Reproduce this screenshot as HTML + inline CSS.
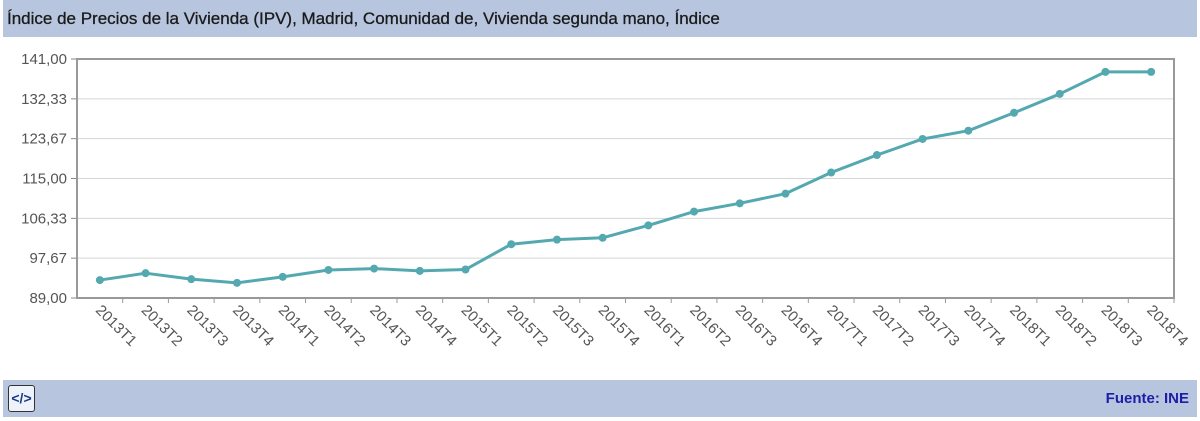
<!DOCTYPE html>
<html><head><meta charset="utf-8"><style>
body{margin:0;width:1200px;height:421px;background:#fff;overflow:hidden;font-family:"Liberation Sans",Arial,sans-serif}
#hdr{position:absolute;left:3px;top:0;width:1194px;height:37px;background:#b7c5df}
#hdr span{position:absolute;left:4px;top:9px;font-size:17px;color:#1a1a1a;-webkit-text-stroke:0.3px #1a1a1a}
#ftr{position:absolute;left:3px;top:380px;width:1194px;height:37px;background:#b7c5df}
#src{position:absolute;right:8px;top:10px;font-size:15px;color:#1d1ea8;font-weight:bold}
#code{position:absolute;left:5px;top:5px;width:25px;height:25px;border:1px solid #333;border-radius:3px;background:#eef2fa;font-size:14px;font-weight:bold;color:#1a3a8a;text-align:center;line-height:24px}
</style></head><body>
<div id="hdr"><span>Índice de Precios de la Vivienda (IPV), Madrid, Comunidad de, Vivienda segunda mano, Índice</span></div>
<svg id="chart" width="1200" height="421" style="position:absolute;left:0;top:0"></svg>
<div id="ftr"><div id="code">&lt;/&gt;</div><span id="src">Fuente: INE</span></div>
<script>
const categories=["2013T1","2013T2","2013T3","2013T4","2014T1","2014T2","2014T3","2014T4","2015T1","2015T2","2015T3","2015T4","2016T1","2016T2","2016T3","2016T4","2017T1","2017T2","2017T3","2017T4","2018T1","2018T2","2018T3","2018T4"];
const values=[92.9,94.4,93.1,92.3,93.6,95.1,95.4,94.9,95.2,100.7,101.7,102.1,104.8,107.8,109.6,111.7,116.3,120.1,123.6,125.4,129.3,133.4,138.2,138.2];
const yTicks=[89,97.67,106.33,115,123.67,132.33,141];
const yTickLabels=["89,00","97,67","106,33","115,00","123,67","132,33","141,00"];
const L=77,R=1174,T=59,B=298,yMin=89,yMax=141;
const svg=document.getElementById('chart');const NS='http://www.w3.org/2000/svg';
const band=(R-L)/categories.length;
const x=i=>L+band*(i+0.5);
const y=v=>B-(v-yMin)/(yMax-yMin)*(B-T);
function mk(t,a,p){const e=document.createElementNS(NS,t);for(const k in a)e.setAttribute(k,a[k]);(p||svg).appendChild(e);return e;}
yTicks.forEach((v,i)=>{
 const g=mk('line',{x1:L,x2:R,y1:y(v),y2:y(v),stroke:'#d4d4d4','stroke-width':1});
 
 
 mk('line',{x1:L-6,x2:L,y1:y(v),y2:y(v),stroke:'#888'});
 const t=mk('text',{x:L-10,y:y(v)+5,'text-anchor':'end','font-size':15,fill:'#555','font-family':'Liberation Sans, sans-serif'});
 t.textContent=yTickLabels[i];
 
 
});
const frame=mk('rect',{x:L,y:T,width:R-L,height:B-T,fill:'none',stroke:'#999','stroke-width':2});


categories.forEach((c,i)=>{
 mk('line',{x1:L+band*(i+1),x2:L+band*(i+1),y1:B,y2:B+5,stroke:'#999'});
 const t=mk('text',{x:0,y:0,'font-size':15,fill:'#555','font-family':'Liberation Sans, sans-serif',transform:`translate(${x(i)-5},${B+13}) rotate(45)`});
 t.textContent=c;
 
 
});
const line=mk('polyline',{points:values.map((v,i)=>x(i)+','+y(v)).join(' '),fill:'none',stroke:'#54a9b0','stroke-width':3,'stroke-linejoin':'round'});


values.forEach((v,i)=>{
 const p=mk('circle',{cx:x(i),cy:y(v),r:4,fill:'#54a9b0'});
 
 
});
</script>
</body></html>
